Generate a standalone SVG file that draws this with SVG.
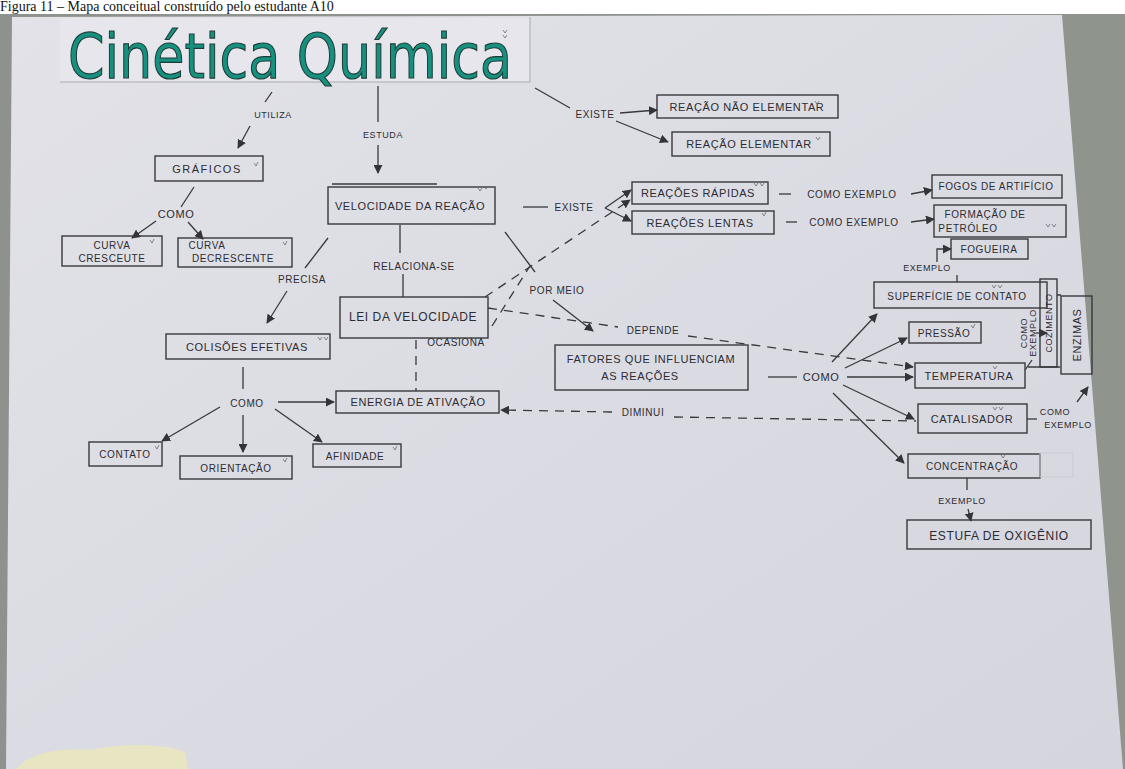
<svg xmlns="http://www.w3.org/2000/svg" width="1125" height="769" viewBox="0 0 1125 769">
  <defs>
    <linearGradient id="paper" x1="0" y1="0" x2="1" y2="1">
      <stop offset="0" stop-color="#e2e2e8"/>
      <stop offset="0.5" stop-color="#dbdbe3"/>
      <stop offset="1" stop-color="#d5d5de"/>
    </linearGradient>
    <linearGradient id="bg" x1="0" y1="0" x2="1" y2="0">
      <stop offset="0" stop-color="#8d928e"/>
      <stop offset="1" stop-color="#8f948c"/>
    </linearGradient>
    <marker id="ah" viewBox="0 0 10 10" refX="9" refY="5" markerWidth="9" markerHeight="9" markerUnits="userSpaceOnUse" orient="auto">
      <path d="M0,0 L10,5 L0,10 z" fill="#333338"/>
    </marker>
    <style>
      .box{fill:none;stroke:#38383d;stroke-width:1.4}
      .t{font-family:"Liberation Sans",Arial,sans-serif;font-size:11px;fill:#2c2c31;text-anchor:middle;letter-spacing:0.6px}
      .s{font-size:9px}
      .m{font-size:10px}
      .ln{fill:none;stroke:#38383d;stroke-width:1.3}
      .ar{marker-end:url(#ah)}
      .da{stroke-dasharray:9 7}
      .chk{fill:none;stroke:#6a6a72;stroke-width:0.8}
    </style>
  </defs>

  <!-- backdrop, caption and sheet of paper -->
  <rect width="1125" height="769" fill="#ffffff"/>
  <rect x="0" y="14" width="1125" height="755" fill="url(#bg)"/>
  <text x="0" y="11" font-family="'Liberation Serif','Times New Roman',serif" font-size="14" fill="#111">Figura 11 – Mapa conceitual construído pelo estudante A10</text>
  <polygon points="12,17 1062,15 1123,769 6,769" fill="url(#paper)"/>
  <rect x="60" y="18" width="470" height="64" fill="#e6e6ec"/>
  <path d="M60,82 H530 M530,17 V82" stroke="#a9a9b2" stroke-width="1" fill="none"/>
  <path d="M16,769 C30,752 60,748 90,750 C120,744 160,742 185,752 L188,769 Z" fill="#e8e6c2"/>

  <!-- title -->
  <g id="title">
    <text x="68" y="78" font-family="'DejaVu Sans',sans-serif" font-size="62" fill="#17907f" stroke="#1d3b36" stroke-width="1.2" textLength="444" lengthAdjust="spacingAndGlyphs">Cinética Química</text>
  </g>

  <!-- connectors -->
  <g id="connectors">
    <!-- UTILIZA -->
    <path class="ln" d="M272,92 L265,102"/>
    <path class="ln ar" d="M250,126 L238,148"/>
    <!-- ESTUDA -->
    <path class="ln" d="M378,86 V122"/>
    <path class="ln ar" d="M378,145 V173"/>
    <!-- EXISTE (top) -->
    <path class="ln" d="M535,88 L570,108"/>
    <path class="ln ar" d="M620,113 L657,110"/>
    <path class="ln ar" d="M616,121 L668,142"/>
    <!-- GRÁFICOS COMO -->
    <path class="ln" d="M194,187 L181,207"/>
    <path class="ln ar" d="M156,221 L132,238"/>
    <path class="ln ar" d="M188,222 L203,239"/>
    <!-- PRECISA -->
    <path class="ln" d="M328,238 L305,268"/>
    <path class="ln ar" d="M287,291 L267,323"/>
    <!-- RELACIONA-SE -->
    <path class="ln" d="M400,225 V253"/>
    <path class="ln" d="M403,274 V297"/>
    <!-- VELOCIDADE EXISTE -->
    <path class="ln" d="M523,207 H548"/>
    <path class="ln ar" d="M605,208 L631,190"/>
    <path class="ln ar" d="M605,208 L631,221"/>
    <path class="ln da ar" d="M485,297 L630,200"/>
    <path class="ln da" d="M492,326 L530,266"/>
    <!-- POR MEIO -->
    <path class="ln" d="M505,232 L535,272"/>
    <path class="ln ar" d="M553,300 L593,331"/>
    <!-- OCASIONA -->
    <path class="ln da" d="M416,340 V391"/>
    <!-- DEPENDE -->
    <path class="ln da" d="M488,308 L618,327"/>
    <path class="ln da ar" d="M688,336 L913,367"/>
    <!-- DIMINUI -->
    <path class="ln da ar" d="M612,412 L501,410"/>
    <path class="ln da" d="M674,417 L916,421"/>
    <!-- COLISÕES COMO -->
    <path class="ln" d="M243,367 V389"/>
    <path class="ln ar" d="M278,402 H334"/>
    <path class="ln ar" d="M220,407 L162,441"/>
    <path class="ln ar" d="M243,415 V452"/>
    <path class="ln ar" d="M275,409 L322,442"/>
    <!-- FATORES COMO -->
    <path class="ln" d="M768,377 H797"/>
    <path class="ln ar" d="M832,362 L877,314"/>
    <path class="ln ar" d="M845,368 L907,338"/>
    <path class="ln ar" d="M847,377 H913"/>
    <path class="ln ar" d="M843,385 L914,419"/>
    <path class="ln ar" d="M833,393 L904,463"/>
    <!-- COMO EXEMPLO rows -->
    <path class="ln" d="M779,194 H791"/>
    <path class="ln ar" d="M911,194 L932,190"/>
    <path class="ln" d="M786,222 H797"/>
    <path class="ln ar" d="M911,222 L934,219"/>
    <!-- FOGUEIRA EXEMPLO -->
    <path class="ln" d="M957,275 V282"/>
    <path class="ln ar" d="M937,262 V249 H951"/>
    <!-- COZIMENTO COMO EXEMPLO -->
    <path class="ln" d="M1025,370 L1032,360"/>
    <path class="ln ar" d="M1036,333 H1047"/>
    <path class="ln" d="M1028,367 H1060 M1057,295 H1061"/>
    <!-- ENZIMAS COMO EXEMPLO -->
    <path class="ln" d="M1027,419 H1037"/>
    <path class="ln ar" d="M1077,402 L1088,387"/>
    <!-- CONCENTRAÇÃO EXEMPLO -->
    <path class="ln" d="M967,478 V490"/>
    <path class="ln ar" d="M968,509 L971,521"/>
  </g>

  <!-- connector labels -->
  <g id="labels">
    <text class="t s" x="273" y="118">UTILIZA</text>
    <text class="t s" x="383" y="138">ESTUDA</text>
    <text class="t m" x="595" y="118">EXISTE</text>
    <text class="t" x="176" y="218">COMO</text>
    <text class="t m" x="302" y="283">PRECISA</text>
    <text class="t m" x="414" y="270">RELACIONA-SE</text>
    <text class="t m" x="574" y="211">EXISTE</text>
    <text class="t m" x="557" y="294">POR MEIO</text>
    <text class="t m" x="456" y="346">OCASIONA</text>
    <text class="t m" x="653" y="334">DEPENDE</text>
    <text class="t m" x="643" y="416">DIMINUI</text>
    <text class="t m" x="247" y="407">COMO</text>
    <text class="t" x="821" y="381">COMO</text>
    <text class="t m" x="852" y="198">COMO EXEMPLO</text>
    <text class="t m" x="854" y="226">COMO EXEMPLO</text>
    <text class="t s" x="927" y="271">EXEMPLO</text>
    <text class="t s" transform="translate(1027,333) rotate(-90)">COMO</text>
    <text class="t s" transform="translate(1036,333) rotate(-90)">EXEMPLO</text>
    <text class="t s" x="1055" y="415">COMO</text>
    <text class="t s" x="1068" y="428">EXEMPLO</text>
    <text class="t s" x="962" y="504">EXEMPLO</text>
  </g>

  <!-- nodes -->
  <g id="graficos"><rect class="box" x="155" y="156" width="108" height="25"/><text class="t" x="207" y="173" style="letter-spacing:1.5px">GRÁFICOS</text></g>
  <g id="curva-crescente"><rect class="box" x="62" y="236" width="100" height="30"/><text class="t m" x="112" y="249">CURVA</text><text class="t m" x="112" y="262">CRESCEUTE</text></g>
  <g id="curva-decrescente"><rect class="box" x="178" y="238" width="114" height="29"/><text class="t m" x="207" y="249">CURVA</text><text class="t m" x="233" y="262">DECRESCENTE</text></g>
  <g id="velocidade"><path class="ln" d="M332,184 H437"/><rect class="box" x="328" y="187" width="167" height="37"/><text class="t" x="410" y="210">VELOCIDADE DA REAÇÃO</text></g>
  <g id="lei"><rect class="box" x="340" y="297" width="148" height="41"/><text class="t" x="413" y="321" style="font-size:12px">LEI DA VELOCIDADE</text></g>
  <g id="colisoes"><rect class="box" x="166" y="334" width="164" height="25"/><text class="t" x="247" y="351">COLISÕES EFETIVAS</text></g>
  <g id="energia"><rect class="box" x="336" y="391" width="163" height="22"/><text class="t" x="418" y="406">ENERGIA DE ATIVAÇÃO</text></g>
  <g id="contato"><rect class="box" x="89" y="442" width="73" height="24"/><text class="t m" x="125" y="458">CONTATO</text></g>
  <g id="orientacao"><rect class="box" x="180" y="456" width="112" height="23"/><text class="t m" x="236" y="472">ORIENTAÇÃO</text></g>
  <g id="afinidade"><rect class="box" x="313" y="444" width="88" height="23"/><text class="t m" x="355" y="460">AFINIDADE</text></g>
  <g id="nao-elementar"><rect class="box" x="657" y="95" width="181" height="23"/><text class="t" x="747" y="111">REAÇÃO NÃO ELEMENTAR</text></g>
  <g id="elementar"><rect class="box" x="672" y="132" width="158" height="24"/><text class="t" x="749" y="148">REAÇÃO ELEMENTAR</text></g>
  <g id="rapidas"><rect class="box" x="632" y="182" width="136" height="22"/><text class="t" x="698" y="197">REAÇÕES RÁPIDAS</text></g>
  <g id="lentas"><rect class="box" x="632" y="211" width="142" height="23"/><text class="t" x="700" y="227">REAÇÕES LENTAS</text></g>
  <g id="fogos"><rect class="box" x="932" y="175" width="130" height="23"/><text class="t m" x="996" y="190">FOGOS DE ARTIFÍCIO</text></g>
  <g id="petroleo"><rect class="box" x="934" y="205" width="132" height="32"/><text class="t m" x="985" y="218">FORMAÇÃO DE</text><text class="t m" x="968" y="232">PETRÓLEO</text></g>
  <g id="fogueira"><rect class="box" x="951" y="239" width="77" height="20"/><text class="t m" x="989" y="253">FOGUEIRA</text></g>
  <g id="superficie"><rect class="box" x="874" y="282" width="173" height="26"/><text class="t m" x="957" y="300">SUPERFÍCIE DE CONTATO</text></g>
  <g id="cozimento"><rect class="box" x="1040" y="279" width="17" height="88"/><text class="t s" transform="translate(1052,323) rotate(-90)">COZIMENTO</text></g>
  <g id="enzimas"><rect class="box" x="1061" y="296" width="31" height="78"/><text class="t" transform="translate(1081,335) rotate(-90)">ENZIMAS</text></g>
  <g id="pressao"><rect class="box" x="909" y="322" width="72" height="21"/><text class="t m" x="944" y="337">PRESSÃO</text></g>
  <g id="temperatura"><rect class="box" x="915" y="363" width="110" height="25"/><text class="t" x="969" y="380">TEMPERATURA</text></g>
  <g id="catalisador"><rect class="box" x="918" y="404" width="109" height="29"/><text class="t" x="972" y="423">CATALISADOR</text></g>
  <g id="concentracao"><rect class="box" x="908" y="454" width="132" height="24"/><rect x="1040" y="453" width="33" height="24" fill="none" stroke="#c9c9d1" stroke-width="1"/><text class="t m" x="972" y="470">CONCENTRAÇÃO</text></g>
  <g id="estufa"><rect class="box" x="907" y="520" width="184" height="29"/><text class="t" x="999" y="540" style="font-size:12px">ESTUFA DE OXIGÊNIO</text></g>
  <g id="fatores"><rect class="box" x="555" y="345" width="193" height="45"/><text class="t" x="651" y="363">FATORES QUE INFLUENCIAM</text><text class="t" x="640" y="380">AS REAÇÕES</text></g>

  <!-- pencil ticks beside concepts -->
  <g id="ticks" class="chk">
    <path d="M503,30 l2,3 l2,-3 M503,35 l2,3 l2,-3"/>
    <path d="M254,163 l2,3 l2,-4"/>
    <path d="M150,240 l2,3 l2,-4"/>
    <path d="M283,242 l2,3 l2,-4"/>
    <path d="M478,188 l2,3 l2,-3 M484,186 l2,3 l2,-3"/>
    <path d="M318,337 l2,3 l2,-3 M324,337 l2,3 l2,-3"/>
    <path d="M155,446 l2,3 l2,-4"/>
    <path d="M283,459 l2,3 l2,-4"/>
    <path d="M393,447 l2,3 l2,-4"/>
    <path d="M815,101 l2,3 l2,-3"/>
    <path d="M816,137 l2,3 l2,-3"/>
    <path d="M754,183 l2,3 l2,-3 M760,183 l2,3 l2,-3"/>
    <path d="M762,213 l2,3 l2,-4"/>
    <path d="M1046,224 l2,3 l2,-3 M1052,224 l2,3 l2,-3"/>
    <path d="M992,285 l2,3 l2,-3 M998,285 l2,3 l2,-3"/>
    <path d="M971,325 l2,3 l2,-4"/>
    <path d="M993,366 l2,3 l2,-3"/>
    <path d="M993,407 l2,3 l2,-3 M999,407 l2,3 l2,-3"/>
    <path d="M1001,455 l2,3 l2,-3"/>
  </g>
</svg>
